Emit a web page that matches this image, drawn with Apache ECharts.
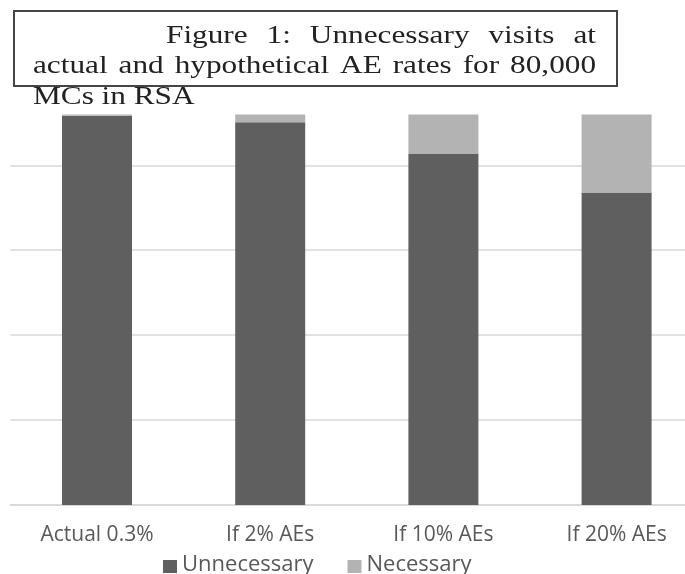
<!DOCTYPE html>
<html>
<head>
<meta charset="utf-8">
<script src="https://cdn.jsdelivr.net/npm/echarts@6/dist/echarts.min.js"></script>
<style>
  html, body { margin: 0; padding: 0; background: #ffffff; }
  #chart { width: 685px; height: 574px; }
</style>
</head>
<body>
<div id="chart"></div>
<script>
// Visits among 80,000 MCs, split by whether the visit was needed
const categories = ['Actual 0.3%', 'If 2% AEs', 'If 10% AEs', 'If 20% AEs'];
const unnecessary = [79760, 78400, 72000, 64000];
const necessary = [240, 1600, 8000, 16000];
const seriesNames = ['Unnecessary', 'Necessary'];

// Caption lines (first two are justified word by word)
const captionLine1 = ['Figure', '1:', 'Unnecessary', 'visits', 'at'];
const captionLine2 = ['actual', 'and', 'hypothetical', 'AE', 'rates', 'for', '80,000'];
const captionLine3 = 'MCs in RSA';

const CAPTION_FONT = '25px "Liberation Serif", "Times New Roman", serif';
const CAPTION_SCALE_X = 1.25;
const CAPTION_COLOR = '#222222';

const measureCtx = document.createElement('canvas').getContext('2d');
measureCtx.font = CAPTION_FONT;

function captionText(text, x, top) {
  return {
    type: 'text', x: x, y: top, scaleX: CAPTION_SCALE_X, z: 100,
    style: { text: text, font: CAPTION_FONT, fill: CAPTION_COLOR, verticalAlign: 'top', align: 'left' }
  };
}

function justifiedWords(words, x0, x1, top) {
  const widths = words.map(w => measureCtx.measureText(w).width * CAPTION_SCALE_X);
  const total = widths.reduce((a, b) => a + b, 0);
  const gap = (x1 - x0 - total) / (words.length - 1);
  let x = x0;
  return words.map((w, i) => {
    const el = captionText(w, x, top);
    x += widths[i] + gap;
    return el;
  });
}

const captionElements = [
  {
    type: 'rect', z: 99,
    shape: { x: 14, y: 11, width: 603, height: 75 },
    style: { fill: '#ffffff', stroke: '#454545', lineWidth: 2 }
  },
  ...justifiedWords(captionLine1, 166, 596, 24),
  ...justifiedWords(captionLine2, 33, 596, 54),
  captionText(captionLine3, 33, 84.5)
];

const chart = echarts.init(document.getElementById('chart'), null, { renderer: 'canvas' });

chart.setOption({
  animation: false,
  backgroundColor: '#ffffff',
  grid: {
    left: 10.4, width: 692.8, top: 114.5, bottom: 69,
    containLabel: false, outerBoundsMode: 'none'
  },
  legend: {
    data: seriesNames,
    left: 163,
    top: 554,
    padding: 0,
    itemWidth: 14,
    itemHeight: 13,
    itemGap: 34,
    icon: 'rect',
    formatter: '{t|{name}}',
    textStyle: {
      rich: {
        t: {
          fontFamily: '"Open Sans", sans-serif', fontSize: 22, color: '#595959',
          lineHeight: 22, padding: [0, 0, 3, 0]
        }
      }
    }
  },
  xAxis: {
    type: 'category',
    data: categories,
    axisLine: { lineStyle: { color: '#d6d6d6', width: 1.5 } },
    axisTick: { show: false },
    axisLabel: { fontFamily: '"Open Sans", sans-serif', fontSize: 21, color: '#595959', margin: 20, verticalAlign: 'top' }
  },
  yAxis: {
    type: 'value',
    min: 0,
    max: 80000,
    interval: 17400,
    axisLabel: { show: false },
    axisLine: { show: false },
    axisTick: { show: false },
    splitLine: { show: true, showMaxLine: false, lineStyle: { color: '#d9d9d9', width: 1.5 } }
  },
  series: [
    {
      name: seriesNames[0], type: 'bar', stack: 'visits', barWidth: 70,
      itemStyle: { color: '#5f5f5f' }, data: unnecessary
    },
    {
      name: seriesNames[1], type: 'bar', stack: 'visits', barWidth: 70,
      itemStyle: { color: '#b3b3b3' }, data: necessary
    }
  ],
  graphic: captionElements
});
</script>
</body>
</html>
